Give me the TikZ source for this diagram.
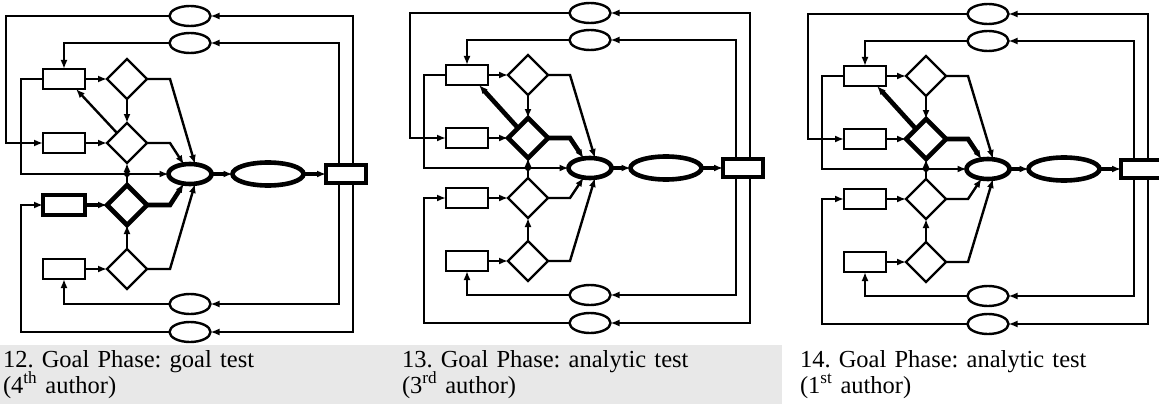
\documentclass[tikz,border=0pt]{standalone}
\usepackage{fontspec}
\setmainfont{Liberation Serif}
\usetikzlibrary{arrows.meta, shapes.geometric}

\begin{document}
\begin{tikzpicture}[
        x = 1pt, y = -1pt, % pixel grid, y runs down
        > = {Latex[length=9pt, width=7pt]}, % arrow head style
        line width = 2.4pt, % line style
        declare function = {g(\v) = round(\v*\s);}, % panel scale, kept on whole pixels
        lite/.style = {line width = 2.4pt},
        heavy/.style = {line width = 4.6pt},
        every node/.style = {inner sep = 0pt, outer sep = 0pt},
        box/.style = {draw, rectangle, lite, minimum width = 42pt, minimum height = 20pt},
        choice/.style = {draw, diamond, lite, minimum width = 40pt, minimum height = 40pt},
        oval/.style = {draw, ellipse, lite, minimum width = 41pt, minimum height = 20pt},
        hub/.style = {draw, ellipse, heavy, minimum width = 43pt, minimum height = 20pt},
        pill/.style = {draw, ellipse, heavy, minimum width = 71pt, minimum height = 23pt},
        sink/.style = {draw, rectangle, heavy, minimum width = 40pt, minimum height = 18pt},
        caption/.style = {anchor = base west, text width = 330pt, align = left,
                          font = {\fontsize{24.5}{26}\selectfont\frenchspacing\lineskiplimit=-20pt\relax}}
    ]

    \useasboundingbox (0,0) rectangle (1159,404);
    \fill[black!9] (0,345) rectangle (782,404);

    % one panel per author: name/centre/scale/style of d2 path/style of d3 path
    \foreach \p/\cx/\cy/\s/\hb/\hc in {a/190/174/1/lite/heavy,
                                        b/590/168/0.98/heavy/lite,
                                        c/988/169/0.98/heavy/lite} {
        \begin{scope}[shift = {(\cx,\cy)}]

            \node[hub]  (\p c) at (0,0) {};
            \node[pill] (\p b) at ({g(78)},0) {};
            \node[sink] (\p o) at ({g(156)},0) {};

            \node[oval] (\p e1) at (0,{g(-158)}) {};
            \node[oval] (\p e2) at (0,{g(-131)}) {};
            \node[oval] (\p e3) at (0,{g(130)}) {};
            \node[oval] (\p e4) at (0,{g(158)}) {};

            \node[box] (\p r1) at ({g(-126)},{g(-95)}) {};
            \node[box] (\p r2) at ({g(-126)},{g(-31)}) {};
            \node[box, \hc] (\p r3) at ({g(-126)},{g(31)}) {};
            \node[box] (\p r4) at ({g(-126)},{g(95)}) {};

            \node[choice] (\p d1) at ({g(-63)},{g(-95)}) {};
            \node[choice, \hb] (\p d2) at ({g(-63)},{g(-31)}) {};
            \node[choice, \hc] (\p d3) at ({g(-63)},{g(31)}) {};
            \node[choice] (\p d4) at ({g(-63)},{g(95)}) {};

            \coordinate (\p ol) at ({g(-184)},{g(-158)});
            \coordinate (\p il) at ({g(-169)},{g(-95)});
            \coordinate (\p iu) at ({g(-169)},{g(158)});
            \coordinate (\p k1) at (-20,{g(-95)});
            \coordinate (\p k2) at (-20,{g(-31)});
            \coordinate (\p k3) at (-20,{g(31)});
            \coordinate (\p k4) at (-20,{g(95)});

            \path[->] (\p r1) edge (\p d1);
            \path[->] (\p r2) edge (\p d2);
            \path[->] (\p r3) edge[\hc] (\p d3);
            \path[->] (\p r4) edge (\p d4);
            \path[->] (\p d1) edge (\p d2);
            \path[->] (\p d4) edge (\p d3);
            \path[->] (\p d3) edge (\p d2);
            \path[->] (\p d2.north west) edge[\hb] ([xshift=-9pt]\p r1.south east);
            \path[->] (\p c) edge[heavy] (\p b);
            \path[->] (\p b) edge[heavy] (\p o);
            \fill (\p d2 |- \p c) circle (3pt);

            \draw[->] (\p d1) -- (\p k1) -- ([xshift=5pt]\p c.north);
            \draw[->, \hb] (\p d2) -- (\p k2) -- (\p c);
            \draw[->, \hc] (\p d3) -- (\p k3) -- (\p c);
            \draw[->] (\p d4) -- (\p k4) -- ([xshift=5pt]\p c.south);
            \draw[->] (\p r1) -- (\p il) |- (\p c);

            % feedback loops
            \draw[->] ([xshift=7pt]\p o.north) |- (\p e1);
            \draw[->] ([xshift=-7pt]\p o.north) |- (\p e2);
            \draw[->] ([xshift=-7pt]\p o.south) |- (\p e3);
            \draw[->] ([xshift=7pt]\p o.south) |- (\p e4);
            \draw[->] (\p e1) -- (\p ol) |- (\p r2);
            \draw[->] (\p e2) -| (\p r1);
            \draw[->] (\p e3) -| (\p r4);
            \draw[->] (\p e4) -- (\p iu) |- (\p r3);
        \end{scope}
    }

    \node[caption] (capa) at (3,367) {12. Goal Phase: goal test\\(4\textsuperscript{th} author)};
    \node[caption] (capb) at (402,367) {13. Goal Phase: analytic test\\(3\textsuperscript{rd} author)};
    \node[caption] (capc) at (800,367) {14. Goal Phase: analytic test\\(1\textsuperscript{st} author)};

\end{tikzpicture}
\end{document}
